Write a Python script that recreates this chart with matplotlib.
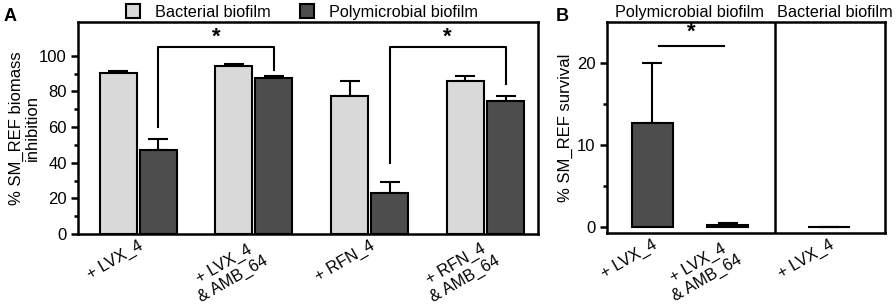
import numpy as np
import matplotlib.pyplot as plt
import matplotlib.transforms as mtransforms
from matplotlib.patches import Patch
from matplotlib.ticker import FixedLocator

plt.rcParams['font.family'] = ['Liberation Sans', 'DejaVu Sans']
plt.rcParams['font.size'] = 12

# panel A data
groups_a = ['+ LVX_4', '+ LVX_4\n& AMB_64', '+ RFN_4', '+ RFN_4\n& AMB_64']
bact_a = [90.5, 94.5, 77.5, 86.0]
bact_a_err = [1.0, 1.0, 8.5, 2.5]
poly_a = [47.3, 87.3, 23.0, 74.7]
poly_a_err = [6.0, 1.5, 6.2, 3.0]

# panel B data
groups_b = ['+ LVX_4', '+ LVX_4\n& AMB_64', '+ LVX_4']
vals_b = [12.7, 0.25, 0.0]
err_b = [7.3, 0.2, 0.0]

light = '#d9d9d9'
dark = '#4d4d4d'

fig = plt.figure(figsize=(8.96, 3.04), dpi=100)
axA = fig.add_axes([0.087, 0.230, 0.513, 0.698])
axB = fig.add_axes([0.677, 0.234, 0.311, 0.694])

for ax in (axA, axB):
    for s in ax.spines.values():
        s.set_linewidth(1.8)
    ax.tick_params(axis='y', which='major', length=5, width=1.8, direction='out', labelsize=12, pad=3)
    ax.tick_params(axis='y', which='minor', length=3, width=1.8, direction='out')
    ax.tick_params(axis='x', length=0, labelsize=11.8, pad=3)

# ---- panel A ----
x = np.arange(len(groups_a))
w = 0.32
off = 0.173
axA.bar(x - off, bact_a, w, color=light, edgecolor='black', linewidth=1.5, zorder=2)
axA.bar(x + off, poly_a, w, color=dark, edgecolor='black', linewidth=1.5, zorder=2)
axA.errorbar(x - off, bact_a, yerr=[np.zeros(4), bact_a_err], fmt='none', ecolor='black',
             capsize=7, elinewidth=1.5, capthick=1.5, zorder=1)
axA.errorbar(x + off, poly_a, yerr=[np.zeros(4), poly_a_err], fmt='none', ecolor='black',
             capsize=7, elinewidth=1.5, capthick=1.5, zorder=1)
axA.set_xlim(-0.52, 3.45)
axA.set_ylim(0, 119)
axA.yaxis.set_major_locator(FixedLocator([0, 20, 40, 60, 80, 100]))
axA.yaxis.set_minor_locator(FixedLocator([10, 30, 50, 70, 90]))
axA.set_xticks(x)
axA.set_xticklabels(groups_a, rotation=30, ha='right', rotation_mode='anchor', multialignment='center')
axA.set_ylabel('% SM_REF biomass\ninhibition', fontsize=12, linespacing=1.1)
axA.yaxis.set_label_coords(-0.082, 0.5)

# significance brackets
def bracket(ax, x1, x2, y1, y2, top, star_y):
    ax.plot([x1, x1, x2, x2], [y1, top, top, y2], color='black', lw=1.5)
    ax.text((x1 + x2) / 2, star_y, '*', ha='center', va='center', fontsize=16, fontweight='bold')

bracket(axA, 0 + off, 1 + off, 60, 92, 105, 110.5)
bracket(axA, 2 + off, 3 + off, 40, 84, 105, 110.5)

leg = axA.legend(handles=[Patch(facecolor=light, edgecolor='black', linewidth=1.5, label='Bacterial biofilm'),
                          Patch(facecolor=dark, edgecolor='black', linewidth=1.5, label='Polymicrobial biofilm')],
                 loc='lower center', bbox_to_anchor=(0.487, 0.995), ncol=2, frameon=False,
                 handlelength=0.9, handleheight=0.9, handletextpad=0.9, columnspacing=1.8,
                 borderaxespad=0, borderpad=0.2, fontsize=11.7)

# ---- panel B ----
xb = np.array([0, 1, 2.35])
axB.bar(xb, vals_b, 0.55, color=dark, edgecolor='black', linewidth=1.5, zorder=2)
axB.errorbar(xb, vals_b, yerr=[np.zeros(3), err_b], fmt='none', ecolor='black',
             capsize=7, elinewidth=1.5, capthick=1.5, zorder=1)
axB.axvline(1.63, color='black', lw=1.8)
axB.set_xlim(-0.61, 3.1)
axB.set_ylim(-0.73, 25)
axB.yaxis.set_major_locator(FixedLocator([0, 10, 20]))
axB.yaxis.set_minor_locator(FixedLocator([5, 15]))
axB.set_xticks(xb)
axB.set_xticklabels(groups_b, rotation=30, ha='right', rotation_mode='anchor', multialignment='center')
axB.set_ylabel('% SM_REF survival', fontsize=12)
axB.yaxis.set_label_coords(-0.12, 0.5)
axB.plot([0.09, 0.95], [22, 22], color='black', lw=1.5)
axB.text(0.52, 23.7, '*', ha='center', va='center', fontsize=16, fontweight='bold')

trans_b = mtransforms.blended_transform_factory(axB.transData, fig.transFigure)
axB.text(0.49, 0.944, 'Polymicrobial biofilm', transform=trans_b, ha='center', va='baseline', fontsize=11.7)
axB.text(2.43, 0.944, 'Bacterial biofilm', transform=trans_b, ha='center', va='baseline', fontsize=11.7)

fig.text(0.004, 0.975, 'A', fontsize=13, fontweight='bold', va='top')
fig.text(0.620, 0.975, 'B', fontsize=13, fontweight='bold', va='top')

fig.savefig('out.png', dpi=100)
